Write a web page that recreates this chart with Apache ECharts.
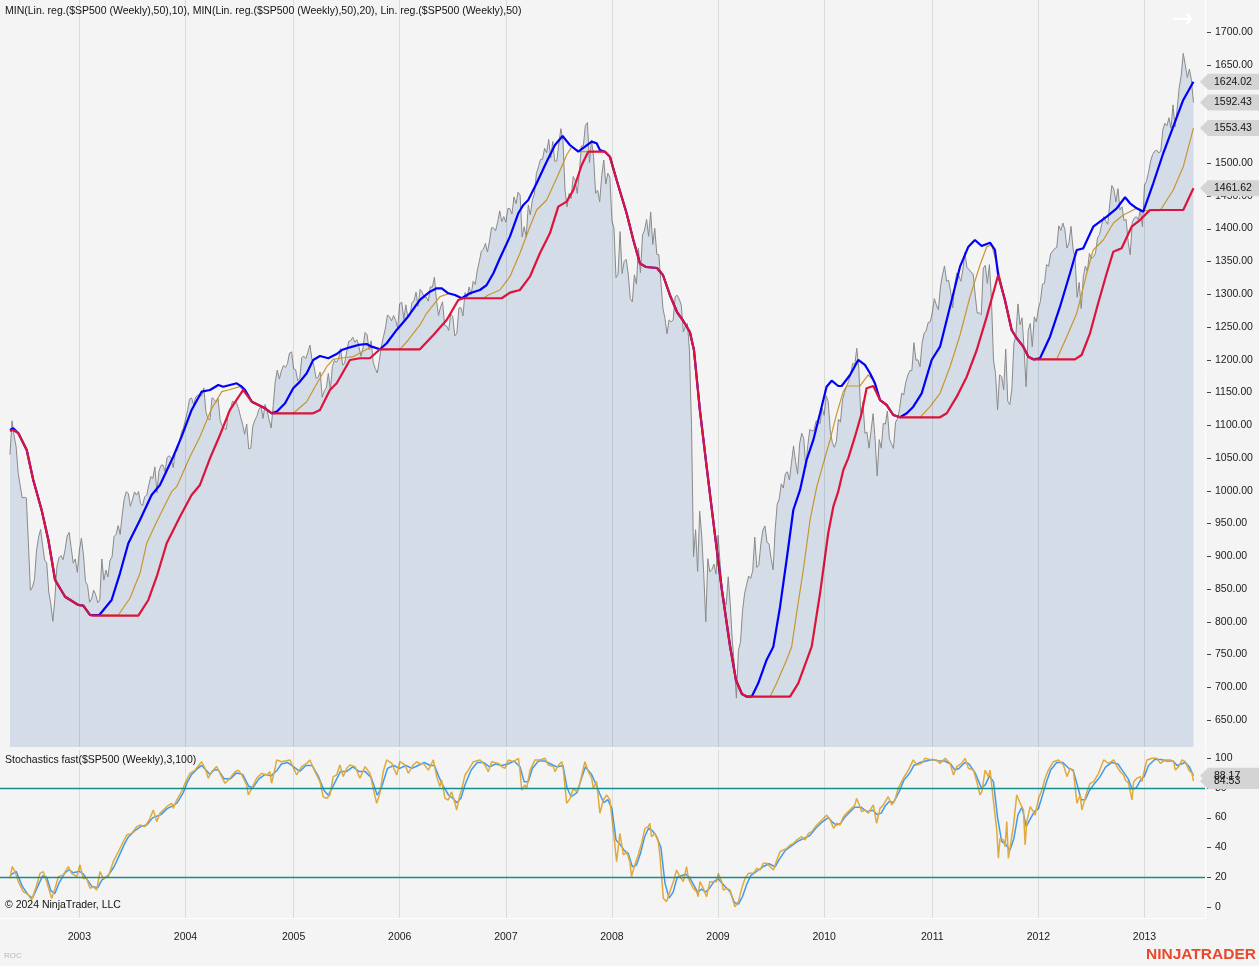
<!DOCTYPE html>
<html>
<head>
<meta charset="utf-8">
<script src="https://cdn.jsdelivr.net/npm/echarts@6/dist/echarts.min.js"></script>
<style>
html,body{margin:0;padding:0;background:#f4f4f4;}
#chart{width:1259px;height:966px;}
</style>
</head>
<body>
<div id="chart"></div>
<script>
// ---------------- DATA ----------------
// bar index of the first weekly bar of each year, and its label
const yearStartBars = [34, 86, 139, 191, 243, 295, 347, 399, 452, 504, 556];
const yearLabels = ['2003','2004','2005','2006','2007','2008','2009','2010','2011','2012','2013'];
const priceTicks = [650,700,750,800,850,900,950,1000,1050,1100,1150,1200,1250,1300,1350,1400,1450,1500,1550,1600,1650,1700];
const stochTicks = [0,20,40,60,80,100];
const stochLevels = [20, 80];

// $SP500 weekly close, week ending 2002-05-10 ... 2013-06-21 (581 bars)
const weeklyClose = [
1054.99,1106.59,1083.82,1067.14,1027.53,1007.27,989.14,989.82,989.03,921.39,847.75,852.84,
864.24,908.64,928.77,940.86,916.07,893.92,889.81,845.39,827.37,800.58,835.32,884.39,897.65,
900.96,894.74,909.83,930.55,936.31,912.23,889.48,895.76,875.40,
908.59,927.57,901.78,861.40,855.70,829.69,834.89,848.17,841.15,828.89,833.27,895.79,863.50,
878.85,868.30,893.58,898.81,930.08,933.41,946.67,933.22,963.59,987.76,998.51,995.69,976.22,
985.70,998.14,993.32,998.68,980.15,977.59,990.67,993.06,1008.01,1021.39,1018.63,1036.30,996.85,
1029.85,1038.73,1039.32,1028.91,1050.71,1053.21,1050.35,1035.28,1058.20,1061.50,1074.14,1088.66,1095.89,
1108.48,1121.86,1139.83,1141.55,1131.13,1142.76,1145.81,1144.11,1144.94,1156.86,1120.57,1109.78,1108.06,
1141.81,1139.32,1134.61,1140.60,1107.30,1098.70,1095.70,1093.56,1120.68,1122.50,1136.47,1135.02,1134.43,
1125.38,1112.81,1101.39,1086.20,1101.72,1063.97,1064.80,1098.35,1107.77,1113.63,1123.92,1128.55,1110.11,
1131.50,1122.14,1108.20,1095.74,1130.20,1166.17,1184.17,1170.34,1182.65,1191.17,1188.00,1194.20,1210.13,1211.92,
1186.19,1184.52,1167.87,1171.36,1203.03,1205.30,1201.59,1211.37,1222.12,1200.08,1189.65,1171.42,
1172.92,1181.20,1142.62,1152.12,1156.85,1178.84,1154.05,1189.28,1198.78,1196.02,1200.93,1216.96,1191.57,
1194.44,1211.86,1227.92,1229.03,1234.18,1226.42,1230.39,1219.71,1205.10,1218.02,1241.48,1237.91,1215.29,1228.81,
1195.90,1186.57,1179.59,1198.41,1220.14,1234.72,1248.27,1268.25,1265.08,1259.37,1267.32,1259.92,1248.29,
1285.45,1287.61,1261.49,1283.72,1264.03,1266.99,1287.24,1289.43,1302.95,1281.42,1307.25,1302.95,1294.83,
1295.50,1289.12,1311.28,1310.61,1325.76,1291.24,1267.03,1280.16,1288.22,1252.30,1251.54,1244.50,1270.20,
1265.48,1236.20,1240.29,1278.55,1279.36,1266.74,1302.30,1295.09,1311.01,1298.92,1319.66,1314.78,1335.85,
1349.59,1365.62,1368.60,1377.34,1364.30,1380.90,1401.20,1400.95,1396.71,1409.84,1427.09,1410.76,1418.30,
1409.71,1430.73,1430.50,1422.18,1448.39,1438.06,1455.54,1451.19,1387.17,1402.84,1386.95,1436.11,1420.86,
1443.76,1452.85,1484.35,1494.07,1505.62,1505.85,1522.75,1515.73,1536.34,1507.67,1532.91,1502.56,1503.35,
1530.44,1552.50,1534.10,1458.95,1433.06,1453.64,1445.94,1479.37,1473.99,1453.55,1484.25,1525.75,1526.75,
1557.59,1561.80,1500.63,1535.28,1509.65,1453.70,1458.74,1440.70,1481.14,1504.66,1467.95,1484.46,1478.49,
1411.63,1401.02,1325.19,1330.61,1395.42,1331.29,1349.99,1353.11,1330.63,1293.37,1288.14,1329.51,1315.22,
1370.40,1332.83,1390.33,1397.84,1413.90,1388.28,1425.35,1375.93,1400.38,1360.68,1360.03,1317.93,1278.38,
1262.90,1239.49,1260.68,1257.76,1260.31,1296.32,1298.20,1292.20,1282.83,1242.31,1251.70,1255.08,1213.27,
1099.23,899.22,940.55,876.77,968.75,930.99,873.29,800.03,896.24,876.07,879.73,887.88,872.80,
931.80,890.35,850.12,831.95,825.88,868.60,826.84,770.05,735.09,683.38,756.55,768.54,815.94,
842.50,856.56,869.60,866.23,877.52,929.23,882.88,887.00,919.14,940.09,946.21,921.23,918.90,
896.42,879.13,940.38,979.26,987.48,1010.48,1004.09,1026.13,1028.93,1016.40,1042.73,1068.30,1044.38,
1025.21,1071.49,1087.68,1079.60,1036.19,1069.30,1093.48,1091.38,1091.49,1105.98,1106.41,1102.47,1126.48,1115.10,
1144.98,1136.03,1091.76,1073.87,1066.19,1075.51,1109.17,1104.49,1138.70,1149.99,1159.90,1166.59,
1178.10,1194.37,1192.13,1217.28,1186.69,1110.88,1135.68,1087.69,1089.41,1064.88,1091.60,1117.51,1076.76,
1022.58,1077.96,1064.88,1102.66,1101.60,1121.64,1079.25,1071.69,1064.59,1104.51,1109.55,1125.59,1148.67,
1146.24,1165.15,1176.19,1183.08,1183.26,1225.85,1199.21,1199.73,1189.40,1224.71,1240.40,1243.91,1256.77,1257.64,
1271.50,1293.24,1283.35,1276.34,1310.87,1329.15,1343.01,1319.88,1321.15,1304.28,1279.21,1313.80,
1332.41,1328.17,1319.68,1337.38,1363.61,1340.20,1337.77,1333.27,1331.10,1300.16,1270.98,1271.50,1268.45,
1339.67,1343.80,1316.14,1345.02,1292.28,1199.38,1178.81,1123.53,1176.80,1173.97,1154.23,1216.01,1136.43,1131.42,
1155.46,1224.58,1238.25,1285.09,1253.23,1263.85,1215.65,1158.67,1244.28,1255.19,1219.66,1265.33,1257.60,
1277.81,1289.09,1315.38,1316.33,1344.90,1342.64,1361.23,1365.74,1369.63,1370.87,1404.17,1397.11,1408.47,
1398.08,1370.26,1378.53,1403.36,1369.10,1353.39,1295.22,1317.82,1278.04,1325.66,1342.84,1335.02,1362.16,
1354.68,1356.78,1362.66,1385.97,1390.99,1405.87,1418.16,1411.13,1406.58,1437.92,1465.77,1460.15,1440.67,
1460.93,1428.59,1433.19,1411.94,1414.20,1379.85,1359.88,1409.15,1416.18,1418.07,1413.58,1430.15,1402.43,
1466.47,1472.05,1485.98,1502.96,1513.17,1517.93,1519.79,1515.60,1518.20,1551.18,1560.70,1556.89,1569.19,
1553.28,1588.85,1555.25,1582.24,1614.42,1633.70,1667.47,1649.60,1630.74,1643.38,1626.73,1592.43
];

// Lin. reg.(50) — [bar index, value]
const linReg50 = [
[0,1092.6],[1.6,1095.2],[4.1,1087.6],[8.2,1062.1],[11.4,1016.3],[15.5,970.5],[18.8,924.7],[22.1,863.7],[27,838.2],[33.5,825.5],[35.9,824.5],[39.2,810.3],[43.8,810.3],
[49.8,833.2],[53.9,873.9],[58,919.7],[63.7,955.3],[69.4,993.4],[73.5,1008.7],[80,1051.9],[84.1,1082.4],[89,1123.2],[93.9,1151.1],[98,1153.7],[102.1,1161.3],[104.5,1158.7],
[107.8,1161.3],[111.1,1163.9],[113.6,1158.7],[115.2,1153.7],[118.5,1135.8],[125,1125.7],[128.3,1118.1],[130.7,1120.6],[134.8,1133.4],[138.8,1156.3],[142.1,1166.4],[145.4,1179.2],
[148.6,1199.5],[151.9,1205.6],[156,1202.1],[160.1,1208.6],[162.6,1214.7],[166.6,1218.8],[170.7,1222.4],[174.8,1223.9],[177.3,1219.8],[181.3,1215.8],[184.6,1225],[189.5,1245.3],
[194.4,1263.1],[200.9,1291.1],[205.8,1303.7],[209.1,1308.9],[211.6,1308.9],[214.8,1301.3],[218.1,1298.7],[221.4,1293.7],[225.4,1301.3],[230.3,1306.3],[233.6,1313.9],[236.9,1331.8],
[240.1,1354.7],[245,1387.7],[249.1,1423.4],[251.6,1436.1],[254,1443.7],[258.1,1469.2],[263,1502.1],[267.1,1527.6],[270.8,1541.4],[274.4,1527.6],[278.5,1517.4],[281.8,1525],
[285.1,1532.7],[287.5,1530.2],[289.1,1520],[291.6,1517.4],[294,1509.8],[297.3,1474.2],[302.2,1423.4],[305.5,1382.6],[308.7,1347],[311.7,1341.4],[317.1,1339.9],[320,1329.2],
[323.4,1298.7],[326.9,1272.7],[330.3,1257.5],[333.2,1242.2],[335.2,1214.7],[338.1,1123.2],[341.6,1031.6],[345.5,932.4],[348.9,848.4],[352.8,764.5],[355.8,711.1],[358.7,689.7],
[361.2,685.6],[363.5,685.6],[366.7,706],[370.8,741.6],[374.1,761.9],[377.4,822.9],[380.6,894.2],[383.9,970.5],[387.2,1001.1],[390.4,1046.8],[393.7,1077.4],[397,1118.1],
[400.2,1158.7],[402.7,1167.9],[405.9,1159.8],[407.6,1159.8],[411.7,1176.6],[415.7,1199.5],[419,1191.9],[421.5,1179.2],[423.9,1163.9],[426.4,1138.4],[429.6,1130.8],[432.9,1115.5],
[436.2,1112],[439.5,1118.1],[442.7,1128.2],[446.8,1148.6],[451.7,1199.5],[455.8,1219.8],[460.7,1280.8],[465.6,1341.9],[469.7,1372.4],[472.9,1382.6],[476.2,1373.5],[480.3,1378.5],
[482.7,1367.4],[484.3,1329.2],[487.6,1291.1],[490.9,1245.3],[493.4,1232.6],[496.6,1219.8],[499.1,1204.5],[501.5,1200.5],[504.8,1202.1],[509.7,1235],[514.6,1280.8],[519.5,1331.8],
[522.8,1367.4],[526,1369.9],[530.9,1402.9],[537.5,1418.2],[542.4,1431],[546.5,1447.8],[548.9,1438.6],[552.2,1431],[555.4,1425.8],[560.3,1469.2],[565.2,1515],[570.1,1555.6],
[575,1596.3],[580,1624.02]
];

// MIN(Lin. reg.(50),10)
const minLinReg10 = [
[0,1091.1],[1.6,1092.6],[4.1,1087.6],[8.2,1062.1],[11.4,1016.3],[15.5,970.5],[18.8,924.7],[22.1,863.7],[27,838.2],[33.5,825.5],[35.9,824.5],[39.2,810.3],[53.1,810.3],
[58.8,835.8],[63.7,873.9],[67,919.7],[71.9,952.6],[79.2,998.5],[81.7,1006.1],[88.2,1051.9],[93.1,1082.4],[98.9,1125.7],[103.8,1151.1],[107,1153.7],[112.7,1158.7],[114.3,1153.7],
[118.5,1135.8],[125,1125.7],[128.3,1118.1],[138.8,1118.1],[145.4,1135.8],[149.5,1158.7],[155.2,1189.2],[158.4,1200.5],[161.7,1202.1],[168.2,1204.5],[174.8,1215.8],[178,1219.8],
[181.3,1215.8],[191.1,1215.8],[195.2,1230],[200.9,1252.9],[204.2,1270.7],[210.7,1296.1],[215.6,1301.3],[221.4,1293.7],[232,1293.7],[234.4,1298.7],[240.1,1306.3],[245,1326.6],
[249.9,1362.3],[254.8,1402.9],[258.1,1428.4],[263,1443.7],[267.9,1476.8],[272.8,1512.3],[275.3,1525],[279.3,1517.4],[291.6,1517.4],[294,1509.8],[297.3,1474.2],[302.2,1423.4],
[305.5,1382.6],[308.7,1347],[311.7,1341.4],[317.1,1339.9],[320,1329.2],[323.4,1298.7],[326.9,1272.7],[330.3,1257.5],[333.2,1242.2],[335.2,1214.7],[338.1,1123.2],[341.6,1031.6],
[345.5,932.4],[348.9,848.4],[352.8,764.5],[355.8,711.1],[358.7,689.7],[361.2,685.6],[372.5,685.6],[375.7,706],[380.6,741.6],[383.1,761.9],[385.5,812.9],[388.8,879],
[392.1,955.3],[395.4,1006.1],[398.6,1041.8],[401.9,1077.4],[405.2,1118.1],[408.4,1151.1],[410.1,1159.8],[416.6,1159.8],[420.6,1176.6],[423.1,1168.9],[426.4,1138.4],[429.6,1130.8],
[432.9,1115.5],[436.2,1112],[446,1112],[450.9,1128.2],[455.8,1148.6],[460.7,1189.2],[465.6,1237.6],[470.5,1296.1],[475.4,1344.4],[478.7,1372.4],[481.1,1375],[483.6,1347],
[487.6,1291.1],[490.9,1245.3],[493.4,1232.6],[496.6,1219.8],[499.1,1204.5],[501.5,1200.5],[513,1200.5],[517.9,1235],[522.8,1270.7],[527.7,1331.8],[530.9,1367.4],[535.8,1382.6],
[540.7,1408.1],[545.6,1420.8],[552.2,1431],[555.4,1427.3],[563.6,1427.3],[570.1,1458.9],[575,1494.5],[580,1553.43]
];

// MIN(Lin. reg.(50),20)
const minLinReg20 = [
[0,1091.1],[1.6,1092.6],[4.1,1087.6],[8.2,1062.1],[11.4,1016.3],[15.5,970.5],[18.8,924.7],[22.1,863.7],[27,838.2],[33.5,825.5],[35.9,824.5],[39.2,810.3],[40.5,809.3],
[62.9,809.3],[67.8,833.2],[71.9,868.7],[76.8,919.7],[83.3,960.3],[89,993.4],[93.1,1008.7],[98,1049.4],[102.9,1085],[107.8,1123.2],[114.3,1153.7],[118.5,1135.8],[125,1125.7],
[128.3,1118.1],[148.6,1118.1],[151.9,1123.2],[156.8,1153.7],[160.1,1163.9],[166.6,1199.5],[171.5,1202.1],[176.4,1202.1],[181.3,1215.8],[200.9,1215.8],[207.5,1237.6],[214,1260.5],
[219.7,1291.1],[222.2,1293.7],[241,1293.7],[245,1302.2],[249.9,1306.3],[254.8,1326.6],[259.7,1362.3],[264.6,1392.8],[268.7,1433.5],[272.8,1441.1],[276.1,1458.9],[280.2,1497.1],
[283.4,1517.4],[291.6,1517.4],[294,1509.8],[297.3,1474.2],[302.2,1423.4],[305.5,1382.6],[308.7,1347],[311.7,1341.4],[317.1,1339.9],[320,1329.2],[323.4,1298.7],[326.9,1272.7],
[330.3,1257.5],[333.2,1242.2],[335.2,1214.7],[338.1,1123.2],[341.6,1031.6],[345.5,932.4],[348.9,848.4],[352.8,764.5],[355.8,711.1],[358.7,689.7],[361.2,685.6],[382.3,685.6],
[386.3,706],[392.9,761.9],[397,843.4],[401,935],[403.5,975.6],[405.9,998.5],[408.4,1031.6],[410.8,1049.4],[414.1,1082.4],[417.4,1118.1],[419.8,1156.3],[423.1,1159.8],
[426.4,1138.4],[429.6,1130.8],[432.9,1115.5],[436.2,1112],[455.8,1112],[459.1,1118.1],[464,1143.5],[468.9,1174],[473.8,1214.7],[478.7,1265.6],[484.3,1329.2],[487.6,1291.1],
[490.9,1245.3],[493.4,1232.6],[496.6,1219.8],[499.1,1204.5],[501.5,1200.5],[521.9,1200.5],[525.2,1207.1],[529.3,1240.2],[533.3,1286],[537.5,1331.8],[540.7,1364.7],[544.8,1369.9],
[549.7,1402.9],[553.8,1413.1],[558.7,1428.4],[575,1428.4],[580,1461.62]
];

// Stochastics fast (3,100): K (orange)
const stochK = [
[0,19.2],[1.1,27.1],[2.5,23.7],[4.1,17],[6.5,10.3],[9,8.1],[10.6,4.7],[13.1,14.8],[14.7,22.6],[16.3,23.7],[18,17],[20.4,5.8],[22.1,12.5],[23.7,20.4],[26.1,21.5],[28.6,27.1],
[30.2,22.6],[32.7,20.4],[34.3,28.2],[35.9,19.2],[37.6,19.2],[39.2,12.5],[40.8,13.6],[42.5,11.4],[44.1,23.7],[45.7,19.2],[48.2,20.4],[50.6,30.4],[53.1,37.1],[55.5,43.8],[57.2,48.3],
[59.6,49.4],[62.1,53.9],[63.7,55],[66.2,53.9],[68.6,59.5],[70.2,65.1],[71.9,57.3],[73.5,62.9],[76.8,67.3],[79.2,69.6],[80,66.2],[81.7,71.8],[84.1,77.4],[85.8,83],[88.2,89.7],
[90.7,91.9],[93.9,97.5],[95.6,93.1],[97.2,86.4],[98.8,90.8],[101.3,94.2],[102.9,89.7],[105.4,83],[107.8,86.4],[110.3,90.8],[111.9,91.9],[113.6,88.6],[116,81.9],[116.8,75.2],
[118.5,79.6],[120.9,86.4],[123.3,89.7],[125.8,88.6],[127.4,90.8],[128.2,83],[129.9,93.1],[130.7,98.7],[133.1,97.5],[137.2,98.7],[140.5,88.6],[142.9,94.2],[145.4,96.4],[147,98.7],
[149.5,90.8],[151.9,84.1],[153.5,74],[155.2,72.9],[156.8,75.2],[158.4,87.5],[160.1,88.6],[161.7,95.3],[163.3,87.5],[165,93.1],[166.6,95.3],[169.1,94.2],[171.5,86.4],[174,94.2],
[176.4,89.7],[178,79.6],[179.7,69.6],[181.3,76.3],[182.9,90.8],[184.6,98.7],[187.1,96.4],[189.5,88.6],[191.1,97.5],[193.6,95.3],[195.2,89.7],[197.6,95.3],[199.3,97.5],[200.9,96],
[202.6,96.4],[205,91.9],[207.5,98.7],[209.1,87.5],[210.7,80.8],[211.5,85.2],[213.2,72.9],[214.8,71.8],[216.4,77.4],[218.1,69.6],[218.9,65.1],[220.5,75.2],[221.3,78.5],[223,88.6],
[224.6,91.9],[227.1,97.5],[230.4,98.7],[232.8,95.3],[234.4,90.8],[236.1,97.5],[239.4,96.4],[241,94.2],[242.6,93.1],[244.2,98.7],[246.7,97.5],[249.2,99.8],[250,90.8],[250.8,78.5],
[252.4,81.9],[253.2,79.6],[254.9,91.9],[257.3,98.7],[259.8,98.7],[262.2,99.8],[263.8,95.3],[266.3,94.2],[267.1,90.8],[268.8,95.3],[270.4,97.5],[271.2,91.9],[272.8,69.6],[274.5,72.9],
[276.1,79.6],[277.7,77.4],[278.5,79.6],[279.3,83],[281,93.1],[281.8,97.5],[283.4,90.8],[285.1,86.4],[285.9,79.6],[287.5,84.1],[289.1,62.9],[290.8,71.8],[292.4,75.2],[294,71.8],
[295.6,52.8],[297.3,30.4],[298.9,49.4],[300.6,34.9],[302.2,37.1],[303.8,30.4],[304.6,20.4],[306.2,28.2],[307.9,34.9],[309.5,42.7],[311.2,52.8],[312.8,53.9],[313.6,56.2],[314.4,47.2],
[316.1,49.4],[317.7,43.8],[318.5,34.9],[320.2,5.8],[321.8,3.6],[323.4,10.3],[325.1,17],[326.7,24.8],[328.3,20.4],[330,17],[331.6,27.1],[332.4,19.2],[333.2,17],[334.9,12.5],
[336.5,10.3],[337.3,6.9],[338.1,17],[339.8,12.5],[341.4,6.9],[343,17],[344.7,17],[346.3,17],[347.1,22.6],[348.8,17],[349.6,11.4],[351.2,12.5],[352.9,11.4],[354.5,3.6],[355.3,0.2],
[357,3.6],[358.6,12.5],[360.2,19.2],[361.9,22.6],[364.3,22.6],[366,26],[367.6,24.8],[369.2,29.3],[370.9,29.3],[372.5,27.1],[374.2,24.8],[375.8,31.5],[377.4,37.1],[379.1,38.3],
[380.7,39.4],[382.3,41.6],[384,42.7],[385.6,45],[388,47.2],[389.7,45],[391.3,49.4],[392.9,50.6],[395.4,55],[397.9,58.4],[400.3,61.7],[402,58.4],[403.6,52.8],[405.2,56.2],
[406.8,55],[408.4,60.6],[410.8,64],[414.1,68.5],[414.9,72.9],[416.6,67.3],[417.4,64],[419,65.1],[420.6,62.9],[423.1,68.5],[424.7,56.2],[426.4,66.2],[428,68.5],[430.4,74],
[432.1,68.5],[433.7,71.8],[435.3,79.6],[437.8,86.4],[440.3,91.9],[442.7,98.7],[444.4,95.3],[446.8,96.4],[448.4,99.8],[451.7,98.7],[454.2,98.7],[455.8,96.4],[458.3,99.8],[460.7,96.4],
[462.4,88.6],[464,94.2],[466.4,96.4],[468.1,99.8],[469.7,93.1],[472.2,91.9],[473.8,84.1],[475.4,75.2],[476.3,77.4],[477.9,91.9],[479.5,87.5],[480.3,91.9],[482,70.7],[483.6,51.7],
[484.4,32.7],[485.2,46.1],[486.9,45],[487.7,40.5],[488.5,57.3],[489.3,32.7],[490.2,40.5],[491.8,55],[493.4,75.2],[495.1,69.6],[496.7,65.1],[497.5,41.6],[498.3,57.3],[500,67.3],
[501.6,64],[502.4,61.7],[504.1,72.9],[505.7,78.5],[507.3,86.4],[508.9,91.9],[511.4,97.5],[513.9,98.7],[516.3,95.3],[518,87.5],[519.6,93.1],[521.2,90.8],[522.9,69.6],[524.5,75.2],
[525.3,65.1],[527.8,77.4],[529.4,83],[531.1,84.1],[533.5,89.7],[536,98.7],[538.4,96.4],[540.9,98.7],[542.5,94.2],[544.2,90.8],[545.8,88.6],[546.6,85.2],[548.2,83],[549.9,71.8],
[550.7,84.1],[552.3,86.4],[554,87.5],[554.8,84.1],[555.6,89.7],[557.2,98.7],[559.7,99.8],[562.1,99.8],[563.8,96.4],[566.2,98.7],[568.7,98.7],[570.3,97.5],[571.1,91.9],[572.8,94.2],
[574.4,98.7],[576,97.5],[577.7,91.9],[579.3,89.7],[580,84.53]
];

// Stochastics fast (3,100): D (blue)
const stochD = [
[0,21],[3,24],[6,14],[9,8],[11,6],[14,15],[16,21],[18,20],[20,11],[22,9],[24,16],[27,23],[29,25],[31,23],[34,24],[36,22],[38,18],[40,14],[43,13],[45,18],[48,21],[51,27],
[54,36],[56,42],[58,47],[61,51],[64,54],[67,55],[70,60],[72,61],[74,62],[77,66],[80,68],[82,70],[85,77],[87,84],[89,89],[92,93],[94,95],[96,92],[98,89],[100,92],[102,92],
[105,86],[108,86],[111,90],[114,89],[117,81],[119,80],[122,86],[125,89],[128,88],[131,92],[133,96],[136,97],[139,94],[142,91],[145,95],[148,95],[151,88],[154,78],[156,75],
[159,83],[162,91],[165,91],[168,94],[171,91],[174,91],[177,87],[180,75],[182,80],[185,93],[188,95],[191,93],[194,95],[197,93],[200,95],[203,97],[206,95],[208,95],[210,88],
[212,82],[215,75],[217,73],[219,70],[221,73],[223,82],[226,92],[229,97],[232,97],[235,94],[238,96],[241,95],[244,96],[247,98],[250,94],[252,84],[254,84],[256,93],[259,98],
[262,98],[265,96],[268,94],[271,95],[273,80],[275,74],[278,77],[280,86],[282,94],[285,89],[287,83],[289,76],[291,70],[293,72],[295,66],[297,45],[299,42],[301,38],[303,36],
[305,27],[307,28],[309,36],[311,47],[313,53],[315,51],[317,47],[319,40],[321,16],[323,6],[325,10],[327,20],[329,21],[331,22],[333,20],[335,15],[337,10],[339,12],[341,10],
[343,13],[345,17],[347,19],[349,16],[351,13],[353,10],[355,3],[357,2],[359,7],[361,15],[363,21],[366,24],[369,27],[372,29],[375,27],[377,32],[380,38],[383,41],[386,44],
[389,46],[392,48],[395,53],[398,57],[401,60],[403,57],[405,55],[407,56],[409,60],[411,63],[414,67],[417,67],[420,64],[423,65],[425,62],[427,63],[429,68],[431,71],[433,70],
[436,78],[438,85],[441,90],[443,95],[446,97],[449,98],[452,99],[455,98],[458,98],[461,96],[463,92],[465,93],[468,97],[470,96],[473,90],[476,80],[478,82],[480,88],[482,84],
[484,60],[486,44],[488,42],[490,38],[492,46],[494,62],[496,67],[498,54],[500,59],[502,64],[504,66],[506,75],[508,84],[510,92],[513,97],[516,97],[519,93],[521,92],[523,82],
[525,72],[527,72],[529,78],[531,82],[534,87],[537,94],[540,97],[543,96],[546,90],[548,86],[550,79],[552,80],[554,85],[556,88],[558,95],[561,99],[564,99],[567,98],[570,98],
[572,95],[574,96],[576,97],[578,94],[580,88.17]
];

// ---------------- LAYOUT ----------------
const FONT = '"Liberation Sans", Arial, Helvetica, sans-serif';
const FS = '10.5px ';
const X_MIN = -4.9, X_MAX = 585.66;
const PLOT_RIGHT = 1205;

const chart = echarts.init(document.getElementById('chart'), null, {renderer: 'canvas', width: 1259, height: 966});

const gridLineStyle = {color: 'rgba(0,0,0,0.10)', width: 1, type: 'solid'};
const markBase = {silent: true, symbol: ['none', 'none'], label: {show: false}, animation: false, emphasis: {disabled: true}};

const last = a => a[a.length - 1];
const priceTags = [last(minLinReg20)[1], last(minLinReg10)[1], weeklyClose[weeklyClose.length - 1], last(linReg50)[1]];
const stochTags = [last(stochD)[1], last(stochK)[1]];

function yAxisCfg(grid, min, max, ticks, fmt) {
  return {type: 'value', gridIndex: grid, position: 'right', min: min, max: max,
    axisLine: {show: true, onZero: false, lineStyle: {color: '#ffffff', width: 1}},
    axisTick: {show: false}, splitLine: {show: false}, splitArea: {show: false}, minorSplitLine: {show: false},
    axisLabel: {customValues: ticks, margin: 10, fontSize: 10.5, fontFamily: FONT, color: '#1a1a1a', formatter: fmt}};
}

const option = {
  backgroundColor: '#f4f4f4',
  animation: false,
  tooltip: {show: false},
  axisPointer: {show: false},
  grid: [
    {left: 0, right: 1259 - PLOT_RIGHT, top: 0, height: 747, show: false},
    {left: 0, right: 1259 - PLOT_RIGHT, top: 750, height: 168, show: false}
  ],
  xAxis: [
    {type: 'value', gridIndex: 0, min: X_MIN, max: X_MAX, show: false},
    {type: 'value', gridIndex: 1, min: X_MIN, max: X_MAX,
     axisLine: {show: true, onZero: false, lineStyle: {color: '#ffffff', width: 1}},
     axisTick: {show: false}, splitLine: {show: false}, splitArea: {show: false},
     axisLabel: {customValues: yearStartBars, margin: 14, fontSize: 10.5, fontFamily: FONT, color: '#1a1a1a',
       formatter: v => yearLabels[yearStartBars.indexOf(v)] || ''}}
  ],
  yAxis: [
    yAxisCfg(0, 608.8, 1748.9, priceTicks, v => Number(v).toFixed(2)),
    yAxisCfg(1, -7.38, 105.37, stochTicks, v => String(v))
  ],
  series: [
    {name: '$SP500', type: 'line', xAxisIndex: 0, yAxisIndex: 0, z: 2, silent: true,
     data: weeklyClose.map((v, i) => [i, v]), showSymbol: false,
     lineStyle: {color: '#8a8a8a', width: 1},
     areaStyle: {color: '#d3dce7', opacity: 1, origin: 'start'}},
    {name: 'grid0', type: 'line', xAxisIndex: 0, yAxisIndex: 0, z: 2, silent: true, data: [],
     markLine: Object.assign({lineStyle: gridLineStyle, data: yearStartBars.map(b => ({xAxis: b}))}, markBase)},
    {name: 'MIN(LinReg,10)', type: 'line', xAxisIndex: 0, yAxisIndex: 0, z: 3, silent: true,
     data: minLinReg10, showSymbol: false, lineStyle: {color: '#c8962e', width: 1.2}},
    {name: 'LinReg', type: 'line', xAxisIndex: 0, yAxisIndex: 0, z: 3, silent: true,
     data: linReg50, showSymbol: false, lineStyle: {color: '#0000ff', width: 2.2}},
    {name: 'MIN(LinReg,20)', type: 'line', xAxisIndex: 0, yAxisIndex: 0, z: 3, silent: true,
     data: minLinReg20, showSymbol: false, lineStyle: {color: '#dc143c', width: 2.2}},
    {name: 'grid1', type: 'line', xAxisIndex: 1, yAxisIndex: 1, z: 1, silent: true, data: [],
     markLine: Object.assign({lineStyle: gridLineStyle, data: yearStartBars.map(b => ({xAxis: b}))}, markBase)},
    {name: 'D', type: 'line', xAxisIndex: 1, yAxisIndex: 1, z: 3, silent: true,
     data: stochD, showSymbol: false, lineStyle: {color: '#3d9af0', width: 1.5}},
    {name: 'K', type: 'line', xAxisIndex: 1, yAxisIndex: 1, z: 4, silent: true,
     data: stochK, showSymbol: false, lineStyle: {color: '#e2a93b', width: 1.5}}
  ]
};
chart.setOption(option);

// hide axis labels that sit fully behind a value tag
const py = v => chart.convertToPixel({yAxisIndex: 0}, v);
const sy = v => chart.convertToPixel({yAxisIndex: 1}, v);
const visiblePriceTicks = priceTicks.filter(t => priceTags.every(g => Math.abs(py(t) - py(g)) >= 6));
chart.setOption({yAxis: [{axisLabel: {customValues: visiblePriceTicks}}, {}]});

let graphics = [];
// overbought / oversold levels (teal, on top)
stochLevels.forEach(l => {
  const y = Math.round(sy(l)) + 0.5;
  graphics.push({type: 'line', silent: true, z: 200, shape: {x1: 0, y1: y, x2: PLOT_RIGHT, y2: y}, style: {stroke: '#138d89', lineWidth: 1.3}});
});
// small tick marks next to the axis labels
visiblePriceTicks.forEach(v => {
  const y = Math.round(py(v)) + 0.5;
  graphics.push({type: 'line', silent: true, z: 50, shape: {x1: PLOT_RIGHT + 2, y1: y, x2: PLOT_RIGHT + 6, y2: y}, style: {stroke: '#444', lineWidth: 1}});
});
stochTicks.forEach(v => {
  const y = Math.round(sy(v)) + 0.5;
  graphics.push({type: 'line', silent: true, z: 50, shape: {x1: PLOT_RIGHT + 2, y1: y, x2: PLOT_RIGHT + 6, y2: y}, style: {stroke: '#444', lineWidth: 1}});
});

// value tags on the right axes
function tag(y, label) {
  return [
    {type: 'polygon', z: 300, silent: true,
     shape: {points: [[PLOT_RIGHT - 5, y], [PLOT_RIGHT + 3, y - 8], [1259, y - 8], [1259, y + 8], [PLOT_RIGHT + 3, y + 8]]},
     style: {fill: '#d4d4d4'}},
    {type: 'text', z: 301, silent: true, x: 1214, y: y,
     style: {text: label, font: FS + FONT, fill: '#111', textAlign: 'left', align: 'left', textVerticalAlign: 'middle', verticalAlign: 'middle'}}
  ];
}
priceTags.forEach(v => { graphics = graphics.concat(tag(py(v), v.toFixed(2))); });
stochTags.forEach(v => { graphics = graphics.concat(tag(sy(v), v.toFixed(2))); });

const txt = (x, y, s, font, fill) => ({type: 'text', x: x, y: y, z: 90, silent: true,
  style: {text: s, font: font, fill: fill, textVerticalAlign: 'middle', verticalAlign: 'middle'}});
graphics.push(txt(5, 11, 'MIN(Lin. reg.($SP500 (Weekly),50),10), MIN(Lin. reg.($SP500 (Weekly),50),20), Lin. reg.($SP500 (Weekly),50)', FS + FONT, '#111'));
graphics.push(txt(5, 760, 'Stochastics fast($SP500 (Weekly),3,100)', FS + FONT, '#111'));
graphics.push(txt(5, 905, '\u00a9 2024 NinjaTrader, LLC', FS + FONT, '#111'));
graphics.push(txt(4, 956, 'ROC', '8px ' + FONT, '#b8b8b8'));
graphics.push(txt(1172, 20, '\u2192', '26px "DejaVu Sans", ' + FONT, '#ffffff'));
graphics.push(txt(1146, 955, 'NINJATRADER', 'bold 15.5px ' + FONT, '#e8492d'));

chart.setOption({graphic: graphics});
</script>
</body>
</html>
